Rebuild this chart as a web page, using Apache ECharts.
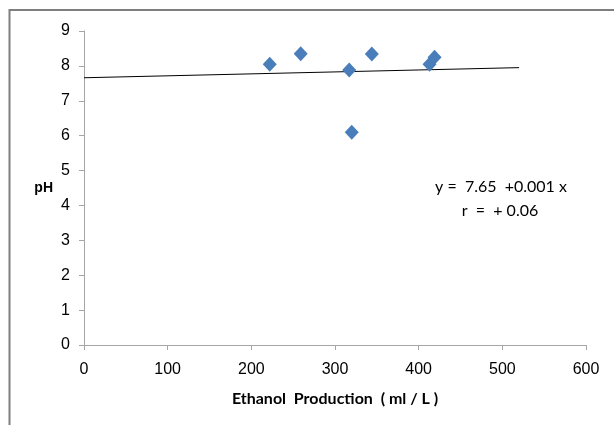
<!DOCTYPE html>
<html>
<head>
<meta charset="utf-8">
<script src="https://cdn.jsdelivr.net/npm/echarts@6/dist/echarts.min.js"></script>
<style>
html,body{margin:0;padding:0;background:#fff;}
#chart{width:614px;height:425px;}
</style>
</head>
<body>
<div id="chart"></div>
<script>
// Data
var ethanol = [222, 259, 317, 320, 344, 413, 419];
var ph = [8.05, 8.35, 7.88, 6.10, 8.34, 8.05, 8.25];
var trendX = [0, 520];
var trendY = [7.66, 7.95];
var xTicks = [0, 100, 200, 300, 400, 500, 600];
var yTicks = [0, 1, 2, 3, 4, 5, 6, 7, 8, 9];
var eqLine1 = 'y =  7.65  +0.001 x';
var eqLine2 = 'r  =  + 0.06';
var xName = 'Ethanol  Production  ( ml / L )';
var yName = 'pH';

var points = ethanol.map(function (x, i) { return [x, ph[i]]; });
var trend = trendX.map(function (x, i) { return [x, trendY[i]]; });

var chart = echarts.init(document.getElementById('chart'));
var narrow = "Lato, 'Open Sans', sans-serif";
var arial = "'Liberation Sans', Arial, sans-serif";
chart.setOption({
  animation: false,
  backgroundColor: '#fff',
  grid: { left: 84, right: 28, top: 31, bottom: 80, containLabel: false },
  xAxis: {
    type: 'value', min: xTicks[0], max: xTicks[xTicks.length - 1], interval: 100,
    name: xName, nameLocation: 'middle', nameGap: 46,
    nameTextStyle: { fontFamily: narrow, fontWeight: 'bold', fontSize: 16, color: '#000' },
    axisLine: { show: true, lineStyle: { color: '#a6a6a6', width: 1 } },
    axisTick: { show: true, length: 5, lineStyle: { color: '#a6a6a6' } },
    axisLabel: { margin: 17, fontFamily: arial, fontSize: 16, color: '#000' },
    splitLine: { show: false }
  },
  yAxis: {
    type: 'value', min: yTicks[0], max: yTicks[yTicks.length - 1], interval: 1,
    name: yName, nameLocation: 'middle', nameRotate: 0, nameGap: 31,
    nameTextStyle: { fontFamily: arial, fontWeight: 'bold', fontSize: 14, color: '#000' },
    axisLine: { show: true, lineStyle: { color: '#a6a6a6', width: 1 } },
    axisTick: { show: true, length: 5, lineStyle: { color: '#a6a6a6' } },
    axisLabel: { margin: 14, fontFamily: arial, fontSize: 16, color: '#000' },
    splitLine: { show: false }
  },
  series: [
    {
      type: 'line', data: trend, symbol: 'none',
      lineStyle: { color: '#000', width: 1 }, silent: true, z: 1
    },
    {
      type: 'scatter', data: points, symbol: 'diamond', symbolSize: [14, 15],
      itemStyle: { color: '#4a7ebb', opacity: 1 }, z: 2
    }
  ],
  graphic: [
    { type: 'rect', shape: { x: 9.5, y: 10, width: 700, height: 500 },
      style: { fill: null, stroke: '#7f7f7f', lineWidth: 2 }, z: -1 },
    { type: 'text', x: 501, y: 187, style: { text: eqLine1, textAlign: 'center', textVerticalAlign: 'middle',
      fontFamily: narrow, fontSize: 16, fill: '#000' } },
    { type: 'text', x: 500, y: 211, style: { text: eqLine2, textAlign: 'center', textVerticalAlign: 'middle',
      fontFamily: narrow, fontSize: 16, fill: '#000' } }
  ]
});
</script>
</body>
</html>
